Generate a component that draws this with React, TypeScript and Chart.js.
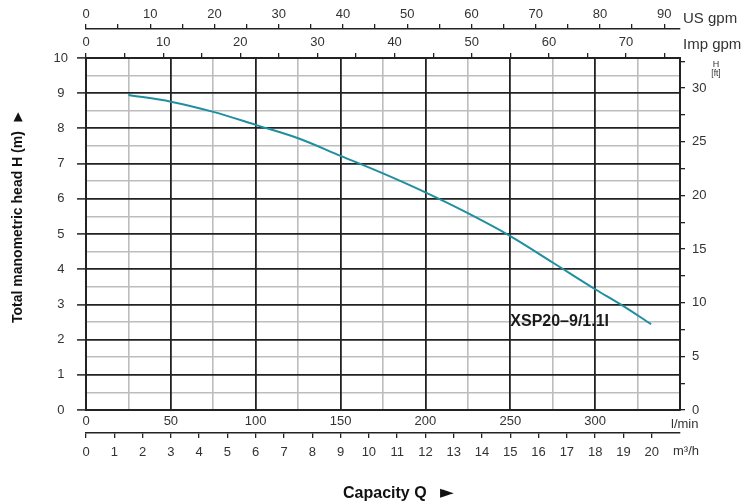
import React, { useEffect, useRef } from "react";
import { Chart, registerables } from "chart.js";

Chart.register(...registerables);

// ---- data ----
const capacityLmin: number[] = [25, 50, 75, 100, 125, 150, 175, 200, 225, 250, 275, 300, 315, 333];
const headM: number[] = [8.95, 8.76, 8.47, 8.1, 7.72, 7.22, 6.72, 6.18, 5.59, 4.94, 4.19, 3.43, 3.0, 2.44];
const seriesLabel = "XSP20–9/1.1I";

const qMax = 350; // l/min
const hMax = 10; // m
const lminTickStep = 25;
const lminLabelStep = 50;
const lminLabelMax = 300;
const m3hLabels: number[] = [0, 20]; // first / last labelled m³/h tick
const usGpmPerLmin = 0.264172;
const impGpmPerLmin = 0.219969;
const m3hPerLmin = 0.06;
const ftPerM = 3.28084;

const DARK = "#222222";
const LIGHT = "#bdbdbd";
const TEXT = "#333333";
const CURVE = "#1f8fa0";
const FONT = "'Liberation Sans', Arial, Helvetica, sans-serif";

const isMult = (v: number, m: number) => Math.abs(v / m - Math.round(v / m)) < 1e-6;

const textPlugin = {
  id: "chartTexts",
  afterDraw(chart: any) {
    const { ctx, chartArea, scales } = chart;
    const ca = chartArea;
    ctx.save();
    ctx.fillStyle = TEXT;
    ctx.textAlign = "left";
    ctx.textBaseline = "alphabetic";
    // unit labels
    ctx.font = `15px ${FONT}`;
    ctx.fillText("US gpm", ca.right + 3, 23);
    ctx.fillText("Imp gpm", ca.right + 3, 49);
    ctx.font = `13px ${FONT}`;
    ctx.fillText("l/min", ca.right - 9, 428);
    ctx.fillText("m³/h", ca.right - 7, 455);
    ctx.textAlign = "center";
    ctx.font = `9px ${FONT}`;
    ctx.fillText("H", ca.right + 36, 66.5);
    ctx.font = `8.5px ${FONT}`;
    ctx.fillText("[ft]", ca.right + 36, 76);

    // series label
    ctx.fillStyle = "#1a1a1a";
    ctx.textAlign = "left";
    ctx.font = `bold 16px ${FONT}`;
    ctx.fillText(seriesLabel, scales.x.getPixelForValue(250), scales.y.getPixelForValue(2.4));

    // axis titles
    ctx.fillStyle = "#111111";
    ctx.font = `bold 16px ${FONT}`;
    ctx.fillText("Capacity Q", 343, 497.5);
    ctx.font = `18px 'DejaVu Sans', sans-serif`;
    ctx.textAlign = "center";
    ctx.textBaseline = "middle";
    ctx.fillText("►", 447, 493);

    ctx.save();
    ctx.translate(22, 323);
    ctx.rotate(-Math.PI / 2);
    ctx.textAlign = "left";
    ctx.textBaseline = "alphabetic";
    ctx.font = `bold 14px ${FONT}`;
    ctx.fillText("Total manometric head H (m)", 0, 0);
    ctx.restore();
    ctx.font = `12px 'DejaVu Sans', sans-serif`;
    ctx.textAlign = "center";
    ctx.textBaseline = "middle";
    ctx.fillText("▲", 18, 117);
    ctx.restore();
  },
};

export default function App() {
  const ref = useRef<HTMLCanvasElement | null>(null);

  useEffect(() => {
    if (!ref.current) return;
    const tickFont = { family: FONT, size: 13 };
    const chart = new Chart(ref.current, {
      type: "line",
      data: {
        datasets: [
          {
            label: seriesLabel,
            data: capacityLmin.map((q, i) => ({ x: q, y: headM[i] })),
            borderColor: CURVE,
            borderWidth: 2,
            pointRadius: 0,
            cubicInterpolationMode: "monotone",
            xAxisID: "x",
            yAxisID: "y",
          },
        ],
      },
      options: {
        responsive: false,
        animation: false,
        maintainAspectRatio: false,
        layout: { padding: 0 },
        plugins: { legend: { display: false }, tooltip: { enabled: false }, title: { display: false } },
        scales: {
          x: {
            type: "linear",
            position: "bottom",
            weight: 0,
            min: 0,
            max: qMax,
            ticks: {
              stepSize: lminTickStep,
              autoSkip: false,
              maxRotation: 0,
              padding: 4,
              color: TEXT,
              font: tickFont,
              callback: (v: any) => (isMult(v, lminLabelStep) && v <= lminLabelMax ? String(v) : ""),
            },
            grid: {
              z: -1,
              drawTicks: false,
              color: (c: any) => (c.tick && isMult(c.tick.value, lminLabelStep) ? DARK : "rgba(0,0,0,0)"),
              lineWidth: 1.8,
            },
            border: { display: true, color: DARK, width: 2 },
            afterFit: (s: any) => { s.height = 23; },
          },
          m3h: {
            type: "linear",
            position: "bottom",
            weight: 1,
            min: 0,
            max: qMax * m3hPerLmin,
            ticks: {
              stepSize: 1,
              autoSkip: false,
              maxRotation: 0,
              padding: 7,
              color: TEXT,
              font: tickFont,
              callback: (v: any) => (v >= m3hLabels[0] && v <= m3hLabels[1] ? String(v) : null),
            },
            grid: { drawOnChartArea: false, tickLength: 5, color: DARK, tickColor: DARK, lineWidth: 1.3 },
            border: { display: true, color: DARK, width: 1.5 },
            afterFit: (s: any) => { s.height = 70; },
          },
          xMinor: {
            type: "linear",
            position: "bottom",
            weight: 2,
            min: 0,
            max: qMax,
            ticks: { display: false, stepSize: lminTickStep, autoSkip: false },
            grid: {
              z: -2,
              drawTicks: false,
              color: (c: any) => (c.tick && !isMult(c.tick.value, lminLabelStep) ? LIGHT : "rgba(0,0,0,0)"),
              lineWidth: 1.6,
            },
            border: { display: false },
            afterFit: (s: any) => { s.height = 0; },
          },
          y: {
            type: "linear",
            position: "left",
            weight: 0,
            min: 0,
            max: hMax,
            ticks: {
              stepSize: 0.5,
              autoSkip: false,
              padding: 9,
              crossAlign: "center",
              color: TEXT,
              font: tickFont,
              callback: (v: any) => (isMult(v, 1) ? String(v) : ""),
            },
            grid: {
              z: -1,
              tickLength: 9,
              color: (c: any) => (c.tick && isMult(c.tick.value, 1) ? DARK : "rgba(0,0,0,0)"),
              tickColor: (c: any) => (c.tick && isMult(c.tick.value, 1) ? DARK : "rgba(0,0,0,0)"),
              lineWidth: 1.8,
              tickWidth: 1.5,
            },
            border: { display: true, color: DARK, width: 2 },
            afterFit: (s: any) => { s.width = 86; },
          },
          yMinor: {
            type: "linear",
            position: "left",
            weight: 1,
            min: 0,
            max: hMax,
            ticks: { display: false, stepSize: 0.5, autoSkip: false },
            grid: {
              z: -2,
              drawTicks: false,
              color: (c: any) => (c.tick && !isMult(c.tick.value, 1) ? LIGHT : "rgba(0,0,0,0)"),
              lineWidth: 1.6,
            },
            border: { display: false },
            afterFit: (s: any) => { s.width = 0; },
          },
          ft: {
            type: "linear",
            position: "right",
            min: 0,
            max: hMax * ftPerM,
            ticks: {
              stepSize: 2.5,
              autoSkip: false,
              includeBounds: false,
              padding: 7,
              color: TEXT,
              font: tickFont,
              callback: (v: any) => (isMult(v, 5) ? String(v) : ""),
            },
            grid: { drawOnChartArea: false, tickLength: 5, color: DARK, tickColor: DARK, lineWidth: 1.3 },
            border: { display: true, color: DARK, width: 2 },
            afterFit: (s: any) => { s.width = 65; },
          },
          imp: {
            type: "linear",
            position: "top",
            weight: 0,
            min: 0,
            max: qMax * impGpmPerLmin,
            ticks: {
              stepSize: 5,
              autoSkip: false,
              includeBounds: false,
              maxRotation: 0,
              padding: 3,
              color: TEXT,
              font: tickFont,
              callback: (v: any) => (isMult(v, 10) ? String(v) : ""),
            },
            grid: { drawOnChartArea: false, tickLength: 5, color: DARK, tickColor: DARK, lineWidth: 1.3 },
            border: { display: true, color: DARK, width: 2 },
            afterFit: (s: any) => { s.height = 29; },
          },
          us: {
            type: "linear",
            position: "top",
            weight: 1,
            min: 0,
            max: qMax * usGpmPerLmin,
            ticks: {
              stepSize: 5,
              autoSkip: false,
              includeBounds: false,
              maxRotation: 0,
              padding: 2,
              color: TEXT,
              font: tickFont,
              callback: (v: any) => (isMult(v, 10) ? String(v) : ""),
            },
            grid: { drawOnChartArea: false, tickLength: 5, color: DARK, tickColor: DARK, lineWidth: 1.3 },
            border: { display: true, color: DARK, width: 1.5 },
            afterFit: (s: any) => { s.height = 29; },
          },
        },
      } as any,
      plugins: [textPlugin],
    });
    return () => chart.destroy();
  }, []);

  return (
    <div style={{ position: "fixed", left: 0, top: 0, width: 745, height: 503, background: "#fff" }}>
      <canvas ref={ref} width={745} height={503} style={{ display: "block" }} />
    </div>
  );
}
